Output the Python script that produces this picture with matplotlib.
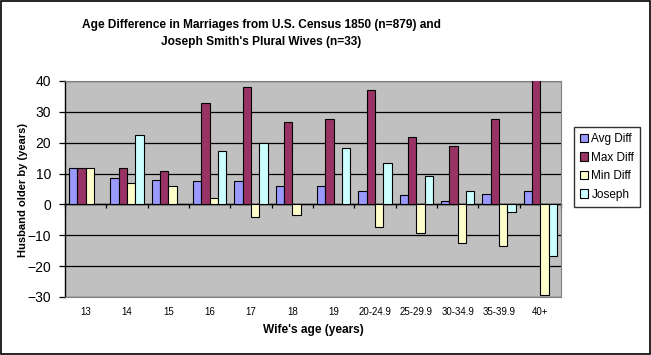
import matplotlib.pyplot as plt
import numpy as np
from matplotlib.patches import Rectangle

# data (nan = no bar shown)
categories = ['13', '14', '15', '16', '17', '18', '19',
              '20-24.9', '25-29.9', '30-34.9', '35-39.9', '40+']
avg_diff = [11.7, 8.5, 7.8, 7.5, 7.5, 5.9, 5.9, 4.2, 2.9, 1.0, 3.3, 4.2]
max_diff = [11.7, 11.7, 10.7, 32.9, 38.1, 26.7, 27.7, 37.1, 21.8, 18.9, 27.7, 41.0]
min_diff = [11.7, 6.8, 5.9, 2.0, -4.2, -3.3, np.nan, -7.2, -9.1, -12.4, -13.4, -29.3]
joseph = [np.nan, 22.5, np.nan, 17.3, 19.9, np.nan, 18.2, 13.4, 9.1, 4.2, -2.6, -16.6]

series = [('Avg Diff', avg_diff, '#9999FF'),
          ('Max Diff', max_diff, '#993366'),
          ('Min Diff', min_diff, '#FFFFCC'),
          ('Joseph', joseph, '#CCFFFF')]

plt.rcParams['font.family'] = ['Liberation Sans', 'DejaVu Sans']

fig = plt.figure(figsize=(6.51, 3.55), dpi=100)
ax = fig.add_axes([65/651, 1-297/355, 496/651, 216/355])
ax.set_facecolor('#C0C0C0')

x = np.arange(len(categories))
w = 0.2
for i, (name, vals, col) in enumerate(series):
    ax.bar(x + (i - 1.5)*w, vals, w, color=col, edgecolor='black',
           linewidth=0.8, label=name, zorder=3)

ax.set_xlim(-0.5, len(categories) - 0.5)
ax.set_ylim(-30, 40)
ax.set_yticks(range(-30, 41, 10))
ax.yaxis.grid(True, color='black', linewidth=0.9, zorder=1)
ax.set_axisbelow(True)
ax.tick_params(axis='y', direction='out', length=4, width=0.9, labelsize=10, pad=6)
ax.set_xticks(x)
ax.set_xticklabels(categories, fontsize=7)
ax.tick_params(axis='x', length=0, pad=7)

for s in ['top', 'right', 'bottom']:
    ax.spines[s].set_color('#808080')
ax.spines['left'].set_color('black')
ax.spines['left'].set_linewidth(1.0)

# zero axis with tick marks between groups
sec = ax.secondary_xaxis(3/7)
sec.set_xticks(np.arange(len(categories) + 1) - 0.5)
sec.set_xticklabels([])
sec.tick_params(direction='out', length=3, width=0.9, color='black')
sec.spines['bottom'].set_color('black')
sec.spines['bottom'].set_linewidth(1.0)

fig.text(23/651, 1-190/355, 'Husband older by (years)', fontsize=8, fontweight='bold',
         rotation=90, ha='center', va='center')
fig.text(313/651, 1-330/355, "Wife's age (years)", fontsize=8.6, fontweight='bold',
         ha='center', va='center')

fig.text(261/651, 1-25/355,
         "Age Difference in Marriages from U.S. Census 1850 (n=879) and",
         fontsize=8.6, fontweight='bold', ha='center', va='center')
fig.text(261/651, 1-42/355, "Joseph Smith's Plural Wives (n=33)",
         fontsize=8.6, fontweight='bold', ha='center', va='center')

leg = fig.legend(loc='center', bbox_to_anchor=(607/651, 1-167/355),
                 frameon=True, fancybox=False, handlelength=0.7, handleheight=0.7,
                 handletextpad=0.3, borderpad=0.5, labelspacing=0.55,
                 prop={'size': 8.5})
leg.get_frame().set_edgecolor('black')
leg.get_frame().set_linewidth(1.0)

fig.patches.append(Rectangle((0.001, 0.002), 0.997, 0.995, transform=fig.transFigure,
                             fill=False, edgecolor='black', linewidth=1.2))

fig.savefig('out.png', dpi=100)
